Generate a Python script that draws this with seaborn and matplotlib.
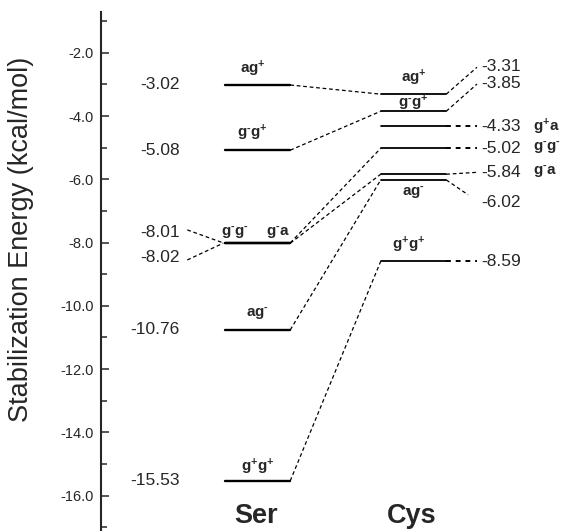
import matplotlib
matplotlib.use("Agg")
import matplotlib.pyplot as plt
import seaborn as sns
import pandas as pd
import numpy as np

# ---------------- data ----------------
ser_names = ["ag+", "g-g+", "g-g-", "g-a", "ag-", "g+g+"]
ser_energy = [-3.02, -5.08, -8.01, -8.02, -10.76, -15.53]
cys_names = ["ag+", "g-g+", "g+a", "g-g-", "g-a", "ag-", "g+g+"]
cys_energy = [-3.31, -3.85, -4.33, -5.02, -5.84, -6.02, -8.59]
groups = ["Ser", "Cys"]
yticks = [-2.0, -4.0, -6.0, -8.0, -10.0, -12.0, -14.0, -16.0]
ytick_labels = ["-2.0", "-4.0", "-6.0", "-8.0", "-10.0", "-12.0", "-14.0", "-16.0"]
ylabel = "Stabilization Energy (kcal/mol)"

# ---------------- layout ----------------
SER_X, CYS_X, HW = 1.0, 2.0, 0.21
ser_val_dy = [0, 0, 0.33, -0.45, 0, 0]          # vertical shift of Ser value labels
ser_name_dx = [-0.03, -0.03, -0.145, 0.13, 0.0, 0.0]
ser_name_dy = [0.36, 0.40, 0.22, 0.22, 0.41, 0.30]
cys_val_dy = [0.89, 0.88, 0.0, 0.0, 0.07, -0.70, 0.0]
cys_conn_end = [(0.407, 0.85), (0.407, 0.86), (0.407, 0.0), (0.407, 0.0),
                (0.407, 0.06), (0.35, -0.47), (0.407, 0.0)]
cys_name_pos = ["above", "above", "right", "right", "right", "below", "above"]
cys_name_dy = [0.37, 0.13, 0, 0, 0, -0.52, 0.37]
cys_name_dx = [0.0, 0.0, 0, 0, 0, 0.0, -0.03]
NAME_FS = 11


def mt(name):
    s = ""
    for ch in name:
        if ch == "+":
            s += "^{+}"
        elif ch == "-":
            s += "^{\u2010}"
        else:
            s += ch
    return r"$\mathbf{" + s + "}$"


sns.set_style("ticks")
plt.rcParams["font.family"] = ["Liberation Sans", "DejaVu Sans"]
plt.rcParams["mathtext.fontset"] = "custom"
plt.rcParams["mathtext.rm"] = "Liberation Sans"
plt.rcParams["mathtext.bf"] = "Liberation Sans:bold"
plt.rcParams["mathtext.it"] = "Liberation Sans:italic"
plt.rcParams["axes.unicode_minus"] = False

fig = plt.figure(figsize=(5.67, 5.31), dpi=100)
ax = fig.add_axes([0.1776, 0.0, 0.8224, 0.9768])

# levels dataframe
rows = []
for i, (n, e) in enumerate(zip(ser_names, ser_energy)):
    for x in (SER_X - HW, SER_X + HW):
        rows.append(dict(grp="Ser", lvl=f"Ser{i}", x=x, E=e))
for i, (n, e) in enumerate(zip(cys_names, cys_energy)):
    for x in (CYS_X - HW, CYS_X + HW):
        rows.append(dict(grp="Cys", lvl=f"Cys{i}", x=x, E=e))
df = pd.DataFrame(rows)

sns.lineplot(data=df[df.grp == "Ser"], x="x", y="E", units="lvl", estimator=None,
             color="black", lw=1.7, ax=ax, sort=False)
sns.lineplot(data=df[df.grp == "Cys"], x="x", y="E", units="lvl", estimator=None,
             color="black", lw=1.3, ax=ax, sort=False)

thin = dict(color="black", lw=0.9, ls=(0, (3, 2.2)))
thick = dict(color="black", lw=1.4, ls=(0, (2.5, 2.5)))

# Ser -> Cys connectors
for i, n in enumerate(ser_names):
    if n in cys_names:
        j = cys_names.index(n)
        ax.plot([SER_X + HW, CYS_X - HW], [ser_energy[i], cys_energy[j]], **thin)

# Ser value labels (left)
VAL_FS = 12.5
for i, e in enumerate(ser_energy):
    ty = e + ser_val_dy[i]
    ax.text(0.503, ty, f"{e:.2f}", ha="right", va="center", fontsize=VAL_FS)
    if ser_val_dy[i] != 0:
        ax.plot([0.55, SER_X - HW - 0.01], [ty + 0.08 * np.sign(ser_val_dy[i]), e], **thin)

# Ser name labels
for i, n in enumerate(ser_names):
    ax.text(SER_X + ser_name_dx[i], ser_energy[i] + ser_name_dy[i], mt(n),
            ha="center", va="baseline", fontsize=NAME_FS)

# Cys right side labels
for j, e in enumerate(cys_energy):
    dx, dy = cys_conn_end[j]
    style = thick if dy == 0 else thin
    ax.plot([CYS_X + HW, CYS_X + dx], [e, e + dy], **style)
    ty = e + cys_val_dy[j]
    ax.text(CYS_X + 0.433, ty, f"{e:.2f}", ha="left", va="center", fontsize=VAL_FS)
    pos = cys_name_pos[j]
    if pos == "right":
        ax.text(CYS_X + 0.766, ty, mt(cys_names[j]), ha="left", va="center", fontsize=NAME_FS)
    else:
        ax.text(CYS_X + cys_name_dx[j], e + cys_name_dy[j], mt(cys_names[j]),
                ha="center", va="baseline", fontsize=NAME_FS)

# group labels
for gx, g in zip([SER_X, CYS_X], groups):
    ax.text(gx - 0.01, -16.63, g, ha="center", va="center", fontsize=19.5,
            fontweight="bold", clip_on=False)

ax.set_xlim(-0.005, 2.984)
ax.set_ylim(-17.116, -0.723)
ax.set_xticks([])
ax.set_xlabel("")
ax.set_yticks(yticks)
ax.set_yticklabels(ytick_labels, fontsize=10.5)
ax.set_yticks([v - 1 for v in yticks] + [-1.0], minor=True)
ax.tick_params(axis="y", which="major", direction="in", length=6, width=1.1, pad=5)
ax.tick_params(axis="y", which="minor", direction="in", length=4, width=1.1)
for s in ["top", "right", "bottom"]:
    ax.spines[s].set_visible(False)
ax.spines["left"].set_linewidth(1.5)
ax.set_ylabel(ylabel, fontsize=19.5, va="center")
ax.yaxis.set_label_coords(-0.171, 0.563)

fig.savefig("out.png", dpi=100)
